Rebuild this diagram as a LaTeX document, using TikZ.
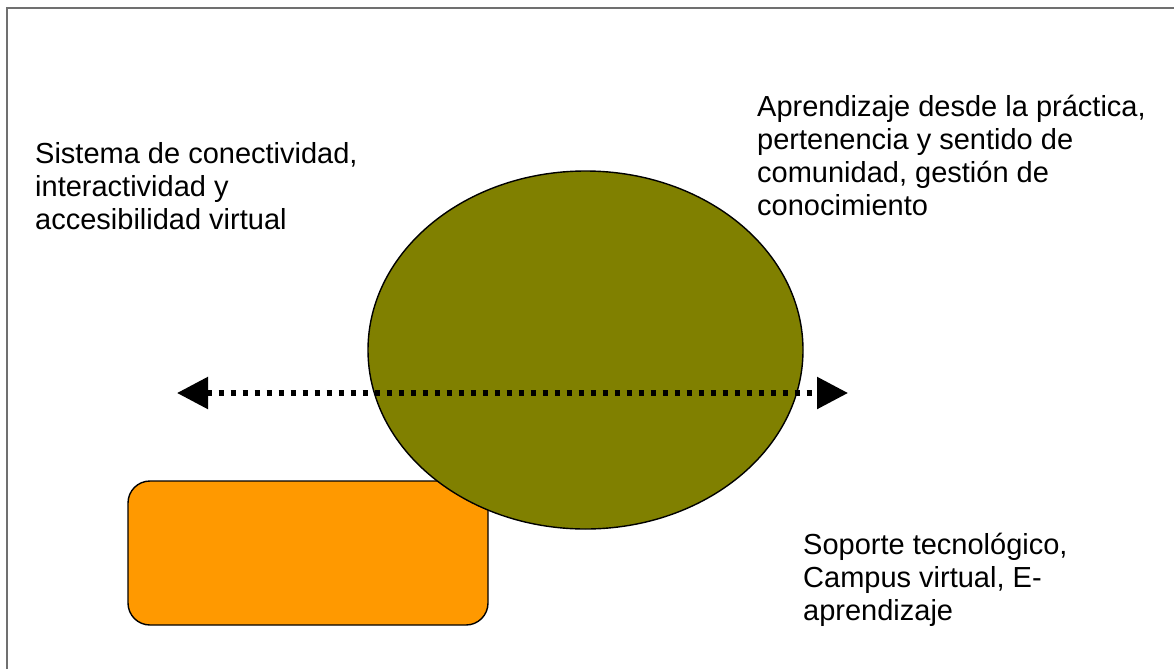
\documentclass[tikz,border=0pt]{standalone}
\usepackage{fontspec}
\setmainfont{Liberation Sans}
\usetikzlibrary{shapes.geometric,arrows.meta}
\definecolor{olivefill}{HTML}{808000}
\definecolor{orangefill}{HTML}{FF9900}
\definecolor{framegray}{HTML}{707070}
\tikzset{
  label text/.style={anchor=north west, inner sep=0pt, align=left,
    font=\fontsize{29}{33}\selectfont},
  blob/.style={ellipse, draw=black, line width=1.4pt, fill=olivefill, inner sep=0pt},
  pad/.style={rectangle, rounded corners=22pt, draw=black, line width=1.4pt, fill=orangefill, inner sep=0pt},
  dotarrow/.style={line width=5.5pt, dash pattern=on 5.5pt off 6.5pt,
    {Triangle[length=31pt,width=31pt]}-{Triangle[length=31pt,width=31pt]}}
}
\begin{document}
\begin{tikzpicture}[x=1pt,y=-1pt]
\useasboundingbox (0,0) rectangle (1174,669);
\fill[white] (0,0) rectangle (1174,669);
\draw[framegray, line width=2pt] (7,669) -- (7,8) -- (1174,8);
\node[pad, minimum width=360pt, minimum height=144pt] (box) at (308,553) {};
\node[blob, minimum width=435pt, minimum height=358pt] (circle) at (585.5,350) {};
\coordinate (L) at (177,393);
\coordinate (R) at (848,393);
\draw[dotarrow] (L) -- (R);
\node[label text] (t1) at (35,140) {\strut Sistema de conectividad,\\interactividad y\\accesibilidad virtual};
\node[label text] (t2) at (757,93) {\strut Aprendizaje desde la práctica,\\pertenencia y sentido de\\comunidad, gestión de\\conocimiento};
\node[label text] (t3) at (803,531) {\strut Soporte tecnológico,\\Campus virtual, E-\\aprendizaje};
\end{tikzpicture}
\end{document}
